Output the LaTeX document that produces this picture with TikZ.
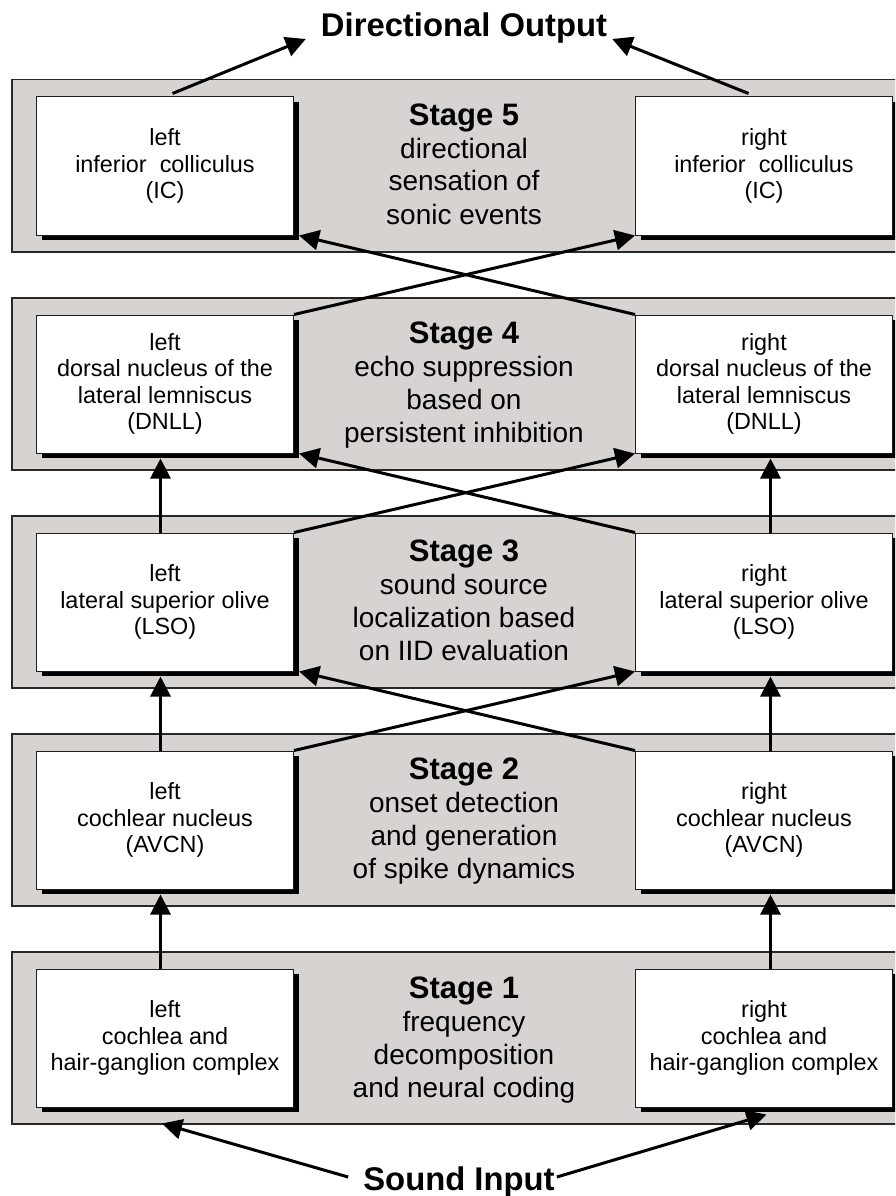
\documentclass[tikz,border=0pt]{standalone}
\usepackage{fontspec}
\setmainfont{Liberation Sans}
\usetikzlibrary{arrows.meta,shadows}

\definecolor{bandgray}{RGB}{214,211,208}
\definecolor{bandline}{RGB}{40,40,40}
\definecolor{boxline}{RGB}{30,30,30}

\newcommand\boxfont{\fontsize{23.4pt}{26.5pt}\selectfont}
\newcommand\descfont{\fontsize{28pt}{33pt}\selectfont}
% stage heading over its description, first baseline = node base
\newcommand\stagelines[2]{\descfont\begin{tabular}[t]{@{}c@{}}{\bfseries\fontsize{31pt}{33pt}\selectfont #1}\\#2\end{tabular}}

\begin{document}
\begin{tikzpicture}[x=1pt,y=-1pt,
  band/.style={draw=bandline, line width=1.5pt, fill=bandgray,
    minimum width=900pt, minimum height=172pt, anchor=north west, inner sep=0pt},
  cell/.style={draw=boxline, line width=1pt, fill=white,
    minimum width=257pt, minimum height=138pt, anchor=north west,
    align=center, font=\boxfont, inner sep=0pt,
    general shadow={fill=black, shadow xshift=5pt, shadow yshift=-5pt}},
  stagetxt/.style={anchor=base, inner sep=0pt},
  io/.style={anchor=base, inner sep=0pt, font=\bfseries\fontsize{32.8pt}{36pt}\selectfont},
  arr/.style={line width=3pt, -{Triangle[length=20pt,width=20pt]}}]

\useasboundingbox (0,0) rectangle (895,1196);
\clip (0,0) rectangle (895,1196);

% stage bands
\node[band] (B5) at (11,79) {};
\node[band] (B4) at (11,297) {};
\node[band] (B3) at (11,515) {};
\node[band] (B2) at (11,733) {};
\node[band] (B1) at (11,951) {};

% stage headings and descriptions
\node[stagetxt] (T5) at (464,125) {\stagelines{Stage 5}{directional\\sensation of\\sonic events}};
\node[stagetxt] (T4) at (464,343) {\stagelines{Stage 4}{echo suppression\\based on\\persistent inhibition}};
\node[stagetxt] (T3) at (464,561) {\stagelines{Stage 3}{sound source\\localization based\\on IID evaluation}};
\node[stagetxt] (T2) at (464,779) {\stagelines{Stage 2}{onset detection\\and generation\\of spike dynamics}};
\node[stagetxt] (T1) at (464,998) {\stagelines{Stage 1}{frequency\\decomposition\\and neural coding}};

% left and right processing boxes
\node[cell] (L5) at (36,96.5)  {left\\inferior~~colliculus\\(IC)};
\node[cell] (R5) at (635,96.5) {right\\inferior~~colliculus\\(IC)};
\node[cell] (L4) at (36,314.5)  {left\\dorsal nucleus of the\\lateral lemniscus\\(DNLL)};
\node[cell] (R4) at (635,314.5) {right\\dorsal nucleus of the\\lateral lemniscus\\(DNLL)};
\node[cell] (L3) at (36,532.5)  {left\\lateral superior olive\\(LSO)};
\node[cell] (R3) at (635,532.5) {right\\lateral superior olive\\(LSO)};
\node[cell] (L2) at (36,750.5)  {left\\cochlear nucleus\\(AVCN)};
\node[cell] (R2) at (635,750.5) {right\\cochlear nucleus\\(AVCN)};
\node[cell] (L1) at (36,968.5)  {left\\cochlea and\\hair-ganglion complex};
\node[cell] (R1) at (635,968.5) {right\\cochlea and\\hair-ganglion complex};

% input and output labels
\node[io] (Out) at (464,37) {Directional Output};
\node[io] (In) at (459,1190) {Sound Input};

% ipsilateral connections
\draw[arr] ([xshift=-4.5pt]L1.north) -- ([xshift=-4.5pt,yshift=-5pt]L2.south);
\draw[arr] ([xshift=-4.5pt]L2.north) -- ([xshift=-4.5pt,yshift=-5pt]L3.south);
\draw[arr] ([xshift=-4.5pt]L3.north) -- ([xshift=-4.5pt,yshift=-5pt]L4.south);
\draw[arr] ([xshift=6.5pt]R1.north) -- ([xshift=6.5pt,yshift=-5pt]R2.south);
\draw[arr] ([xshift=6.5pt]R2.north) -- ([xshift=6.5pt,yshift=-5pt]R3.south);
\draw[arr] ([xshift=6.5pt]R3.north) -- ([xshift=6.5pt,yshift=-5pt]R4.south);

% contralateral connections
\draw[arr] (L2.north east) -- (R3.south west);
\draw[arr] (R2.north west) -- ([xshift=5pt]L3.south east);
\draw[arr] (L3.north east) -- (R4.south west);
\draw[arr] (R3.north west) -- ([xshift=5pt]L4.south east);
\draw[arr] (L4.north east) -- (R5.south west);
\draw[arr] (R4.north west) -- ([xshift=5pt]L5.south east);

% output
\draw[arr] ([xshift=7.5pt,yshift=3pt]L5.north) -- ([xshift=-15pt,yshift=-2pt]Out.base west);
\draw[arr] ([xshift=-15.5pt,yshift=3pt]R5.north) -- ([xshift=5pt,yshift=-2pt]Out.base east);

% input
\draw[arr] ([xshift=-15pt,yshift=13pt]In.base west) -- ([xshift=-3pt,yshift=-16pt]L1.south);
\draw[arr] ([xshift=2pt,yshift=13pt]In.base east) -- ([xshift=2.5pt,yshift=-7pt]R1.south);
\end{tikzpicture}
\end{document}
